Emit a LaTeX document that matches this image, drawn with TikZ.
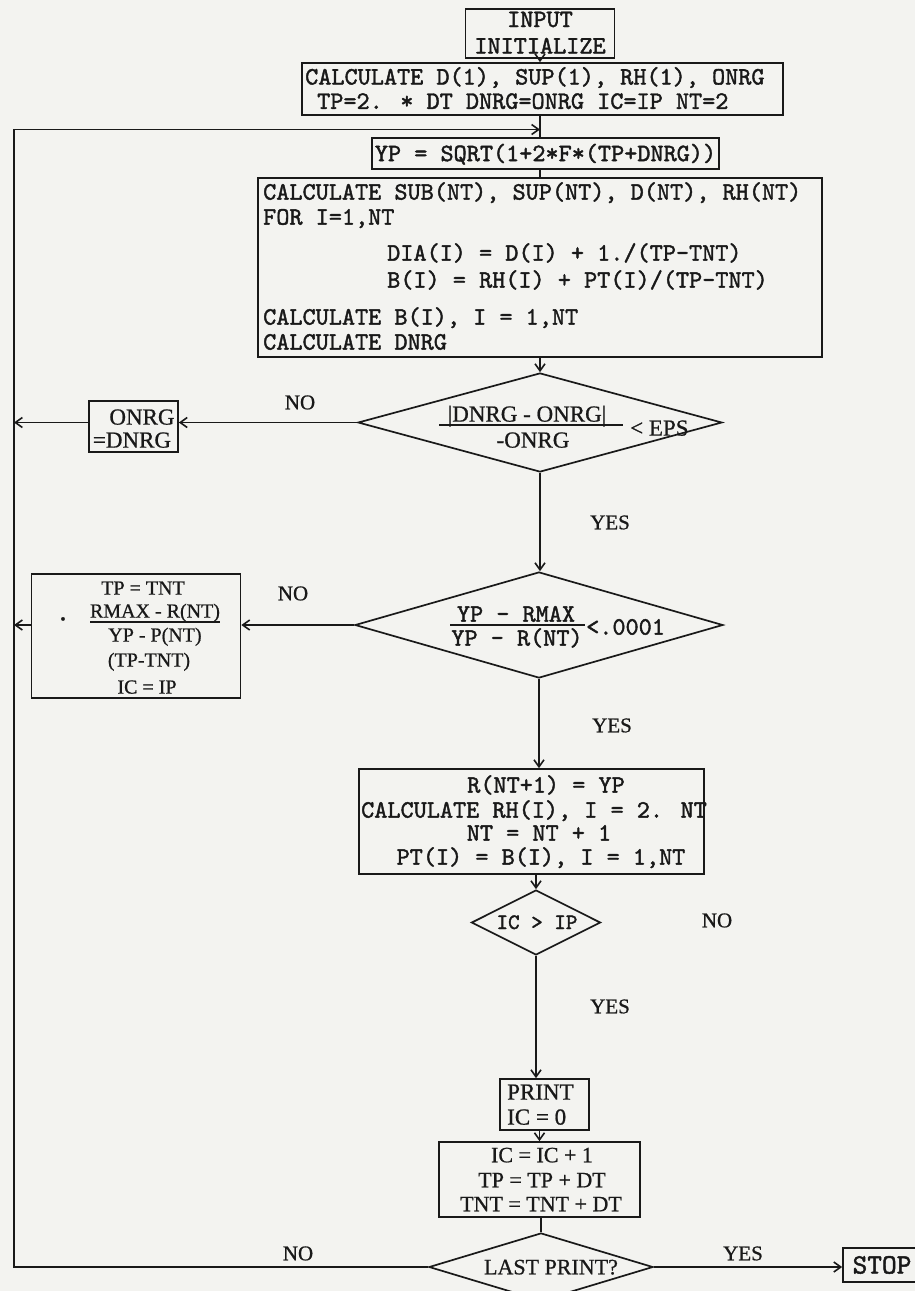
\documentclass[tikz,border=0pt]{standalone}
\usepackage{fontspec}
\usetikzlibrary{shapes.geometric,arrows.meta}
\newfontfamily\tfmono[FakeBold=1.6]{lmmono10-regular.otf}
\newfontfamily\tfserif[FakeBold=0.8]{Liberation Serif}
\definecolor{paper}{RGB}{243,243,240}
\definecolor{ink}{RGB}{25,25,25}
\tikzset{
 bx/.style={draw=ink, line width=1.7pt, inner sep=0pt, rectangle},
 dm/.style={draw=ink, line width=1.7pt, inner sep=0pt, diamond},
 mt/.style={font=\tfmono\fontsize{25}{29}\selectfont, inner sep=0pt, anchor=base, text=ink, text height=16pt, text depth=4pt},
 st/.style={font=\tfserif\fontsize{22}{26}\selectfont, inner sep=0pt, anchor=base, text=ink, text height=15pt, text depth=4pt},
 lbl/.style={font=\tfserif\fontsize{21}{25}\selectfont, inner sep=0pt, anchor=base, text=ink},
 arr/.style={draw=ink, line width=1.6pt, -{Straight Barb[length=7pt,width=10pt]}},
 ln/.style={draw=ink, line width=1.6pt},
}
\begin{document}
\begin{tikzpicture}[x=1pt,y=-1pt]
\useasboundingbox (0,0) rectangle (915,1291);
\clip (0,0) rectangle (915,1291);
\fill[paper] (0,0) rectangle (915,1291);
\coordinate (spine) at (540,0);
\coordinate (lt) at (14,129.5);
\coordinate (lb) at (14,1267);

% boxes
\node[bx, minimum width=149pt, minimum height=49pt] (input) at (540,33.5) {};
\node[mt] (inputA) at (540,27) {INPUT};
\node[mt] (inputB) at (540,53.5) {INITIALIZE};

\node[bx, minimum width=481pt, minimum height=52pt] (calc) at (542.5,89) {};
\node[mt, anchor=base west] (calcA) at (305,84.5) {CALCULATE D(1), SUP(1), RH(1), ONRG};
\node[mt, anchor=base west] (calcB) at (317,108.8) {TP=2. * DT DNRG=ONRG IC=IP NT=2};

\node[bx, minimum width=347pt, minimum height=31pt] (yp) at (545.5,153.5) {};
\node[mt] (ypA) at (545.5,161.1) {YP = SQRT(1+2*F*(TP+DNRG))};

\node[bx, minimum width=564pt, minimum height=179pt] (big) at (540,267.5) {};
\node[mt, anchor=base west] (bigA) at (263,199.6) {CALCULATE SUB(NT), SUP(NT), D(NT), RH(NT)};
\node[mt, anchor=base west] (bigB) at (263,224.6) {FOR I=1,NT};
\node[mt, anchor=base west] (bigC) at (387,260.6) {DIA(I) = D(I) + 1./(TP-TNT)};
\node[mt, anchor=base west] (bigD) at (387,287.6) {B(I) = RH(I) + PT(I)/(TP-TNT)};
\node[mt, anchor=base west] (bigE) at (263,324.6) {CALCULATE B(I), I = 1,NT};
\node[mt, anchor=base west] (bigF) at (263,349.6) {CALCULATE DNRG};

% decision 1
\node[dm, minimum width=364pt, minimum height=99pt] (d1) at (540,422.5) {};
\node[st, font=\tfserif\fontsize{23}{27}\selectfont] (d1A) at (527,421.6) {|DNRG - ONRG|};
\draw[ln] (439,425) -- (623,425);
\node[st, font=\tfserif\fontsize{23}{27}\selectfont] (d1B) at (533,447.6) {-ONRG};
\node[st, font=\tfserif\fontsize{23}{27}\selectfont, anchor=base west] (d1C) at (630,435.6) {< EPS};

\node[bx, minimum width=89pt, minimum height=51pt] (onrg) at (133.5,426.5) {};
\node[st, font=\tfserif\fontsize{23}{27}\selectfont] (onrgA) at (142,424.6) {ONRG};
\node[st, font=\tfserif\fontsize{23}{27}\selectfont] (onrgB) at (132,447.6) {=DNRG};

% decision 2
\node[dm, minimum width=368pt, minimum height=106pt] (d2) at (539,625) {};
\node[mt] (d2A) at (516,621.6) {YP - RMAX};
\draw[ln] (450,625) -- (585,625);
\node[mt] (d2B) at (517,645.6) {YP - R(NT)};
\node[mt, anchor=base west] (d2C) at (586,634.6) {<.0001};

\node[bx, minimum width=209pt, minimum height=124pt] (tp) at (136,636) {};
\node[st, font=\tfserif\fontsize{20}{24}\selectfont] (tpA) at (143,594.6) {TP = TNT};
\node[st, font=\tfserif\fontsize{20}{24}\selectfont] (tpB) at (155,617.6) {RMAX - R(NT)};
\draw[ln] (90,622) -- (220,622);
\node[st, font=\tfserif\fontsize{20}{24}\selectfont] (tpC) at (155,641.6) {YP - P(NT)};
\node[st, font=\tfserif\fontsize{20}{24}\selectfont] (tpD) at (149,666.6) {(TP-TNT)};
\node[st, font=\tfserif\fontsize{20}{24}\selectfont] (tpE) at (147,693.6) {IC = IP};
\node[st, anchor=center, text height=, text depth=, font=\tfserif\fontsize{30}{30}\selectfont] (tpdot) at (63,623) {\textperiodcentered};

% box 3
\node[bx, minimum width=345pt, minimum height=105pt] (b3) at (531.5,821.5) {};
\node[mt] (b3A) at (546,792.6) {R(NT+1) = YP};
\node[mt] (b3B) at (534,817.6) {CALCULATE RH(I), I = 2. NT};
\node[mt] (b3C) at (539,840.6) {NT = NT + 1};
\node[mt] (b3D) at (541,864.6) {PT(I) = B(I), I = 1,NT};

% decision 3
\node[dm, minimum width=129pt, minimum height=65pt] (d3) at (536,922.5) {};
\node[mt, font=\tfmono\fontsize{22}{26}\selectfont] (d3A) at (537,929) {IC > IP};

% print
\node[bx, minimum width=89pt, minimum height=51pt] (pr) at (544.5,1104.5) {};
\node[st, font=\tfserif\fontsize{23}{27}\selectfont, anchor=base west] (prA) at (507,1099.6) {PRINT};
\node[st, font=\tfserif\fontsize{23}{27}\selectfont, anchor=base west] (prB) at (507,1124.6) {IC = 0};

\node[bx, minimum width=201pt, minimum height=75pt] (b5) at (539.5,1179.5) {};
\node[st] (b5A) at (542,1162.3) {IC = IC + 1};
\node[st] (b5B) at (542,1187.3) {TP = TP + DT};
\node[st] (b5C) at (541,1211.3) {TNT = TNT + DT};

% decision 4
\node[dm, minimum width=224pt, minimum height=68pt] (d4) at (541,1267) {};
\node[st] (d4A) at (551,1274.3) {LAST PRINT?};

\node[bx, minimum width=92pt, minimum height=34pt] (stop) at (889,1265) {};
\node[mt, font=\tfmono\fontsize{28}{32}\selectfont] (stopA) at (882,1273.5) {STOP};

% labels
\node[lbl] (no1) at (300,409.3) {NO};
\node[lbl] (yes1) at (610,529.3) {YES};
\node[lbl] (no2) at (293,600.3) {NO};
\node[lbl] (yes2) at (612,732.3) {YES};
\node[lbl] (no3) at (717,927.3) {NO};
\node[lbl] (yes3) at (610,1013.3) {YES};
\node[lbl] (no4) at (298,1260.3) {NO};
\node[lbl] (yes4) at (743,1260.3) {YES};

% connectors
\draw[arr] (input.south) -- (input.south |- calc.north);
\draw[ln] (calc.south -| spine) -- (yp.north -| spine);
\draw[ln] (yp.south -| spine) -- (big.north -| spine);
\draw[arr] (d4.west) -- (lb) -- (lt) -- (lt -| spine);
\draw[arr] (big.south -| d1.north) -- (d1.north);
\draw[arr] (d1.west) -- (onrg.east |- d1.west);
\draw[arr] (onrg.west |- d1.west) -- (lt |- d1.west);
\draw[arr] (d1.south) -- (d1.south |- d2.north);
\draw[arr] (d2.west) -- (tp.east |- d2.west);
\draw[arr] (tp.west |- d2.west) -- (lt |- d2.west);
\draw[arr] (d2.south) -- (d2.south |- b3.north);
\draw[arr] (b3.south -| d3.north) -- (d3.north);
\draw[arr] (d3.south) -- (d3.south |- pr.north);
\draw[arr] (pr.south -| b5.north) -- (b5.north);
\draw[ln] (b5.south -| d4.north) -- (d4.north);
\draw[arr] (d4.east) -- (d4.east -| stop.west);
\end{tikzpicture}
\end{document}
